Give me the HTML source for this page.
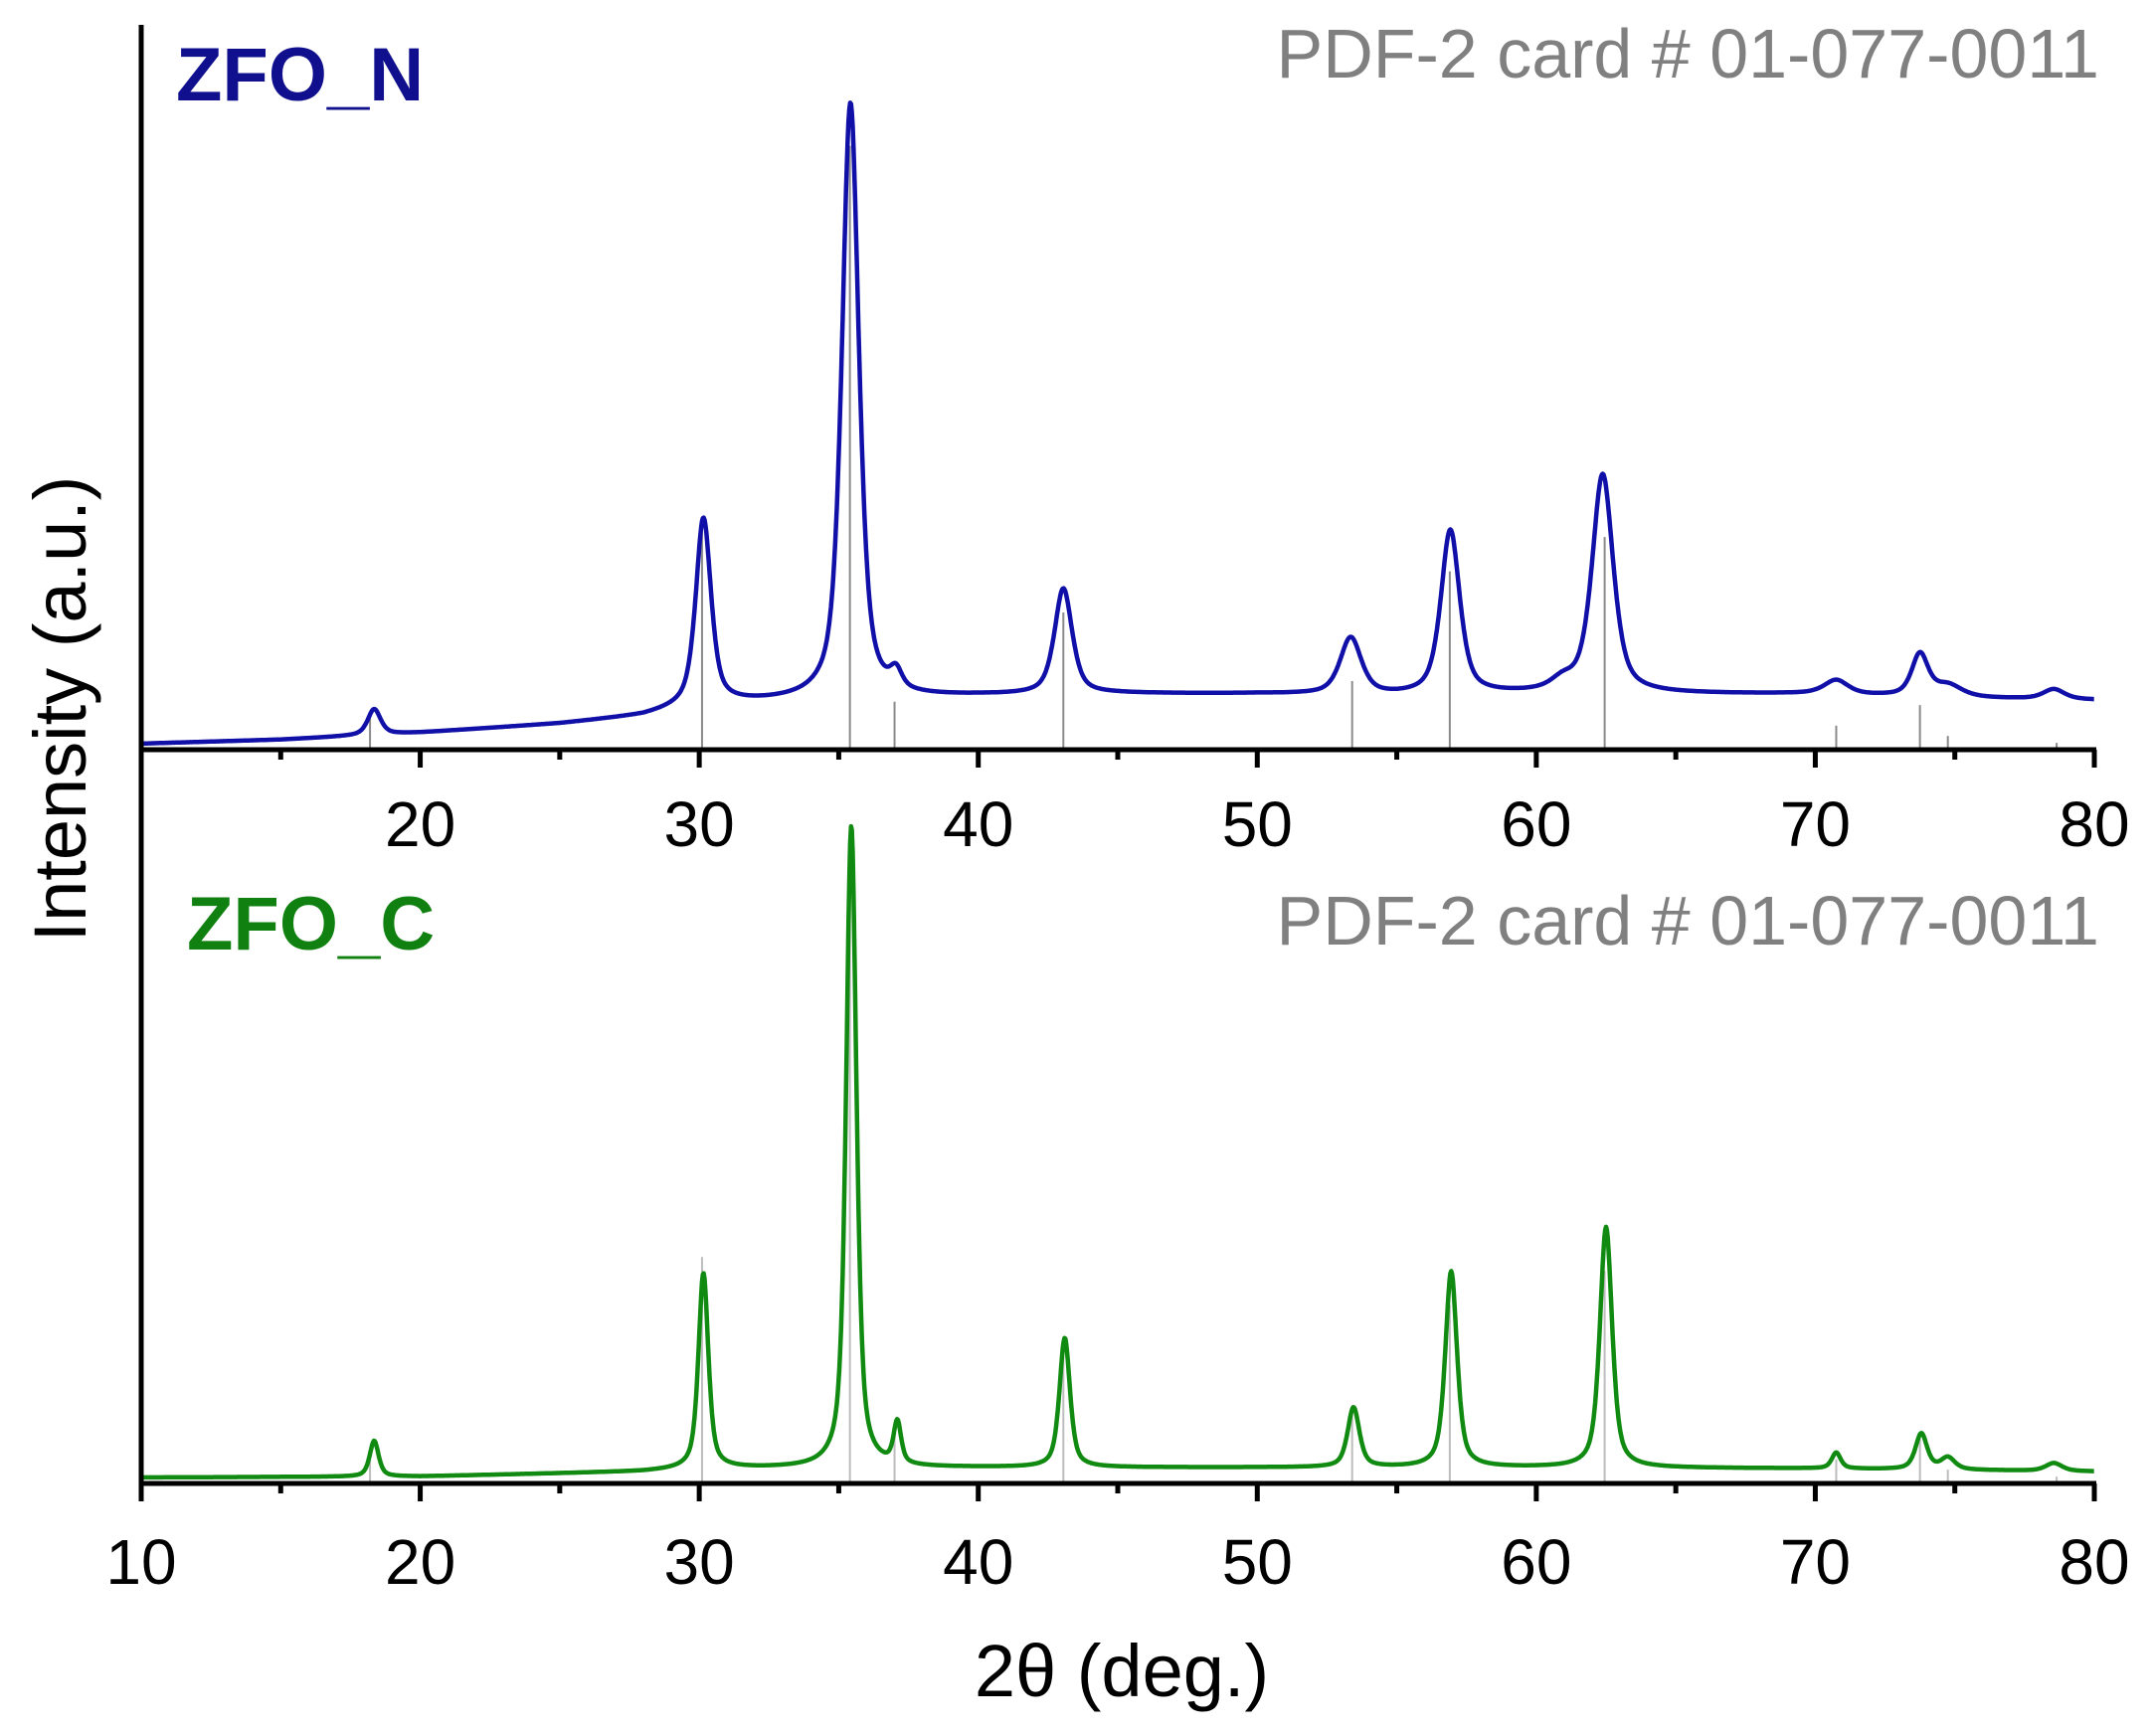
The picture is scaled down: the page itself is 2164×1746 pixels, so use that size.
<!DOCTYPE html>
<html><head><meta charset="utf-8"><style>
html,body{margin:0;padding:0;background:#fff;}
svg{display:block;font-family:"Liberation Sans",Arial,sans-serif;}
</style></head><body>
<svg id="chart" width="2164" height="1746" viewBox="0 0 2164 1746" xmlns="http://www.w3.org/2000/svg">
<g id="refs"></g>
<g id="curves"></g>
<g id="axes"></g>
<text x="177" y="101" font-size="76" font-weight="bold" fill="#10108f">ZFO_N</text>
<text x="2111" y="78" font-size="70" fill="#808080" text-anchor="end">PDF-2 card # 01-077-0011</text>
<text x="188" y="955" font-size="76" font-weight="bold" fill="#108010">ZFO_C</text>
<text x="2111" y="950" font-size="70" fill="#808080" text-anchor="end">PDF-2 card # 01-077-0011</text>
<text x="1128" y="1706" font-size="74" text-anchor="middle" fill="#000">2θ (deg.)</text>
<text transform="translate(86,713) rotate(-90)" font-size="74" text-anchor="middle" fill="#000">Intensity (a.u.)</text>
</svg>
<script>
// ---- data ----
const refPos = [18.2, 30.1, 35.4, 37.0, 43.05, 53.4, 56.9, 62.45, 70.75, 73.75, 74.75, 78.65];
const refInt = [5, 33, 88, 7, 20, 10, 26, 31, 3.5, 6.5, 2, 1];
const topBaseX = [10, 15, 20, 25, 28, 29.5, 31, 33, 40, 45, 50, 55, 60, 65, 70, 75, 80];
const topBaseY = [6, 10, 17, 26, 34, 42, 46, 48, 54, 56, 56, 54, 56, 56, 56, 52, 50];
const topPeakPos = [18.35, 30.15, 35.42, 37.05, 43.05, 53.35, 56.92, 60.95, 62.38, 70.75, 73.75, 74.75, 78.55];
const topPeakH = [26, 188, 600, 18, 106, 57, 165, 10, 220, 14, 42, 12, 10];
const topPeakW = [0.55, 0.65, 0.72, 0.5, 0.75, 0.9, 0.8, 1.0, 0.9, 1.0, 0.7, 1.2, 0.9];
const botBaseX = [10, 20, 28, 30, 40, 50, 60, 70, 80];
const botBaseY = [6, 7, 12, 15, 16, 16, 16, 15, 12];
const botPeakPos = [18.35, 30.15, 35.45, 37.1, 43.1, 53.45, 56.95, 62.5, 70.75, 73.8, 74.75, 78.55];
const botPeakH = [36, 196, 646, 42, 130, 60, 197, 242, 16, 36, 12, 8];
const botPeakW = [0.38, 0.42, 0.44, 0.32, 0.45, 0.5, 0.5, 0.52, 0.38, 0.5, 0.6, 0.7];
const tickMajor = [10, 20, 30, 40, 50, 60, 70, 80];
const tickLabelsTop = ["", "20", "30", "40", "50", "60", "70", "80"];
const tickLabelsBot = ["10", "20", "30", "40", "50", "60", "70", "80"];
const refScale = 6.9;

// ---- scales ----
const X0 = 142, X1 = 2106, XMIN = 10, XMAX = 80;
const xs = v => X0 + (v - XMIN) / (XMAX - XMIN) * (X1 - X0);
const TOP_AXIS = 754, BOT_AXIS = 1492;
const ysTop = v => TOP_AXIS - v;
const ysBot = v => BOT_AXIS - v;
const NS = "http://www.w3.org/2000/svg";
function mk(tag, attrs, parent){const e=document.createElementNS(NS,tag);for(const k in attrs)e.setAttribute(k,attrs[k]);parent.appendChild(e);return e;}
function interp(xa, ya, x){for(let i=0;i<xa.length-1;i++){if(x<=xa[i+1]){const t=(x-xa[i])/(xa[i+1]-xa[i]);return ya[i]+t*(ya[i+1]-ya[i]);}}return ya[ya.length-1];}
function profile(x, pos, h, w){let s=0;for(let i=0;i<pos.length;i++){const d=(x-pos[i])/(w[i]/2);s+=h[i]*(0.6/(1+d*d)+0.4*Math.exp(-0.693*d*d));}return s;}

const refs = document.getElementById('refs');
const curves = document.getElementById('curves');
const axes = document.getElementById('axes');

// reference sticks
[[ysTop, 'top'], [ysBot, 'bottom']].forEach(([ys, nm]) => {
  refPos.forEach((p, i) => {
    const l = mk('line', {x1: xs(p), x2: xs(p), y1: ys(0), y2: ys(refInt[i] * refScale), stroke: nm==='top' ? '#8a8a8a' : '#bdbdbd', 'stroke-width': 2}, refs);
    
    
  });
});

// curves
function drawCurve(bx, by, pos, h, w, ys, color, name){
  let d = '';
  for (let x = XMIN; x <= XMAX + 1e-9; x += 0.03) {
    const v = interp(bx, by, x) + profile(x, pos, h, w);
    d += (d ? 'L' : 'M') + xs(x).toFixed(1) + ',' + ys(v).toFixed(1);
  }
  const p = mk('path', {d: d, fill: 'none', stroke: color, 'stroke-width': 4.5, 'stroke-linejoin': 'round'}, curves);
  
  
}
drawCurve(topBaseX, topBaseY, topPeakPos, topPeakH, topPeakW, ysTop, '#1010a8', 'zfo-n-pattern');
drawCurve(botBaseX, botBaseY, botPeakPos, botPeakH, botPeakW, ysBot, '#108a10', 'zfo-c-pattern');

// axes
const ya = mk('line', {x1: X0, x2: X0, y1: 25, y2: BOT_AXIS + 2, stroke: '#000', 'stroke-width': 5}, axes);


[[TOP_AXIS, tickLabelsTop, 'top', 851], [BOT_AXIS, tickLabelsBot, 'bottom', 1593]].forEach(([yA, labels, nm, ly]) => {
  const ax = mk('line', {x1: X0 - 2, x2: X1 + 2, y1: yA, y2: yA, stroke: '#000', 'stroke-width': 5}, axes);
  
  
  for (let v = 15; v < XMAX; v += 10) {
    const t = mk('line', {x1: xs(v), x2: xs(v), y1: yA, y2: yA + 10, stroke: '#000', 'stroke-width': 5}, axes);
    
    
  }
  tickMajor.forEach((v, i) => {
    const t = mk('line', {x1: xs(v), x2: xs(v), y1: yA, y2: yA + 18, stroke: '#000', 'stroke-width': 5}, axes);
    
    
    if (labels[i]) {
      const tx = mk('text', {x: xs(v), y: ly, 'font-size': 64, 'text-anchor': 'middle', fill: '#000'}, axes);
      tx.textContent = labels[i];
      
      
    }
  });
});
</script>
</body></html>
